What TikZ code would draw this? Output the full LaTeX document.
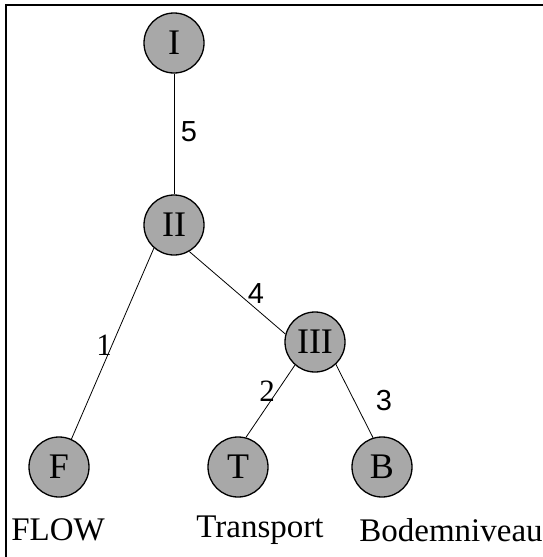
\documentclass[tikz,border=0pt]{standalone}
\usepackage{fontspec}
\setmainfont{Liberation Serif}
\newfontfamily\labsans{Liberation Sans}
\usepackage{xcolor}
\definecolor{nodegray}{RGB}{168,168,168}
\usetikzlibrary{positioning}

\begin{document}
\begin{tikzpicture}[
  x=1pt, y=-1pt,
  lvl/.style={circle, draw, line width=1.3pt, fill=nodegray, minimum size=60pt,
    inner sep=0pt, font=\fontsize{36}{36}\selectfont},
  wt/.style={inner sep=0pt, font=\fontsize{31}{32}\selectfont},
  wtsans/.style={wt, font=\labsans\fontsize{29}{32}\selectfont},
  leaf/.style={inner sep=0pt, font=\fontsize{33}{34}\selectfont},
  every path/.style={line width=0.8pt},
]
\useasboundingbox (0,0) rectangle (543,557);
% frame, only top and left edges show
\draw[line width=2pt] (543,5) -- (6,5) -- (6,557);
% nodes
\node[lvl] (I)   at (174,43)  {I};
\node[lvl] (II)  at (174,225) {II};
\node[lvl] (III) at (315,342) {III};
\node[lvl] (F)   at (59,467)  {F};
\node[lvl] (T)   at (238,467) {T};
\node[lvl] (B)   at (382,467) {B};
% names under the leaves
\node[leaf] (flow)  at (58,530)  {FLOW};
\node[leaf] (trans) at (260,530) {Transport};
\node[leaf] (bodem) at (451,530) {Bodemniveau};
% edges
\draw (I.south) -- (II.north);
\draw (II.229) -- (F.66);
\draw (II.-60) -- (III.165);
\draw (III.229) -- (T.75);
\draw (III.-47) -- (B.107);
% weights
\node[wtsans] (w5) at (189,132) {5};
\node[wtsans] (w4) at (256,294) {4};
\node[wt]     (w1) at (104,345) {1};
\node[wt]     (w2) at (267,391) {2};
\node[wtsans] (w3) at (384,401) {3};
\end{tikzpicture}
\end{document}
